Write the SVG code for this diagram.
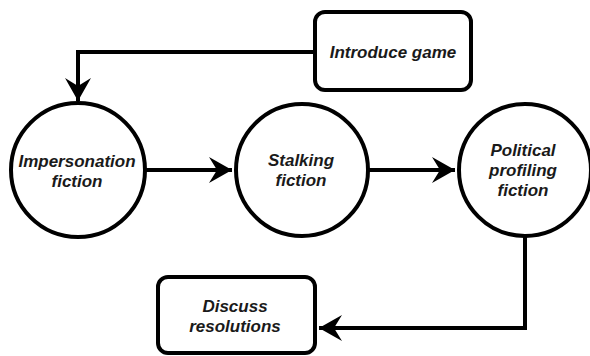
<svg xmlns="http://www.w3.org/2000/svg" width="590" height="356" viewBox="0 0 590 356">
<style>
.shape{fill:#fff;stroke:#000;stroke-width:4}
.edge{fill:none;stroke:#000;stroke-width:4}
text{font-family:"Liberation Sans",Arial,sans-serif;font-size:17px;font-weight:bold;font-style:italic;fill:#1a1a1a;text-anchor:middle}
</style>
<defs>
<marker id="arr" markerUnits="userSpaceOnUse" markerWidth="30" markerHeight="30" viewBox="-24 -15 26 30" refX="0" refY="0" orient="auto">
<path d="M0,0 L-23,-13 L-15,0 L-23,13 Z" fill="#000"/>
</marker>
</defs>
<rect width="590" height="356" fill="#fff"/>
<g id="connectors">
<path class="edge" d="M315,52 H78 V101" marker-end="url(#arr)"/>
<path class="edge" d="M145,170 H232" marker-end="url(#arr)"/>
<path class="edge" d="M368,170 H455" marker-end="url(#arr)"/>
<path class="edge" d="M525,236 V328 H319" marker-end="url(#arr)"/>
</g>
<g id="introduce">
<rect class="shape" x="315" y="12" width="156" height="78" rx="10"/>
<text x="393" y="58">Introduce game</text>
</g>
<g id="impersonation">
<ellipse class="shape" cx="78" cy="170" rx="67" ry="67"/>
<text x="77" y="167">Impersonation</text>
<text x="77" y="187">fiction</text>
</g>
<g id="stalking">
<circle class="shape" cx="302" cy="170" r="66"/>
<text x="301" y="166">Stalking</text>
<text x="301" y="186">fiction</text>
</g>
<g id="political">
<circle class="shape" cx="525" cy="170" r="66"/>
<text x="523" y="156">Political</text>
<text x="523" y="176">profiling</text>
<text x="523" y="196">fiction</text>
</g>
<g id="discuss">
<rect class="shape" x="158" y="277" width="157" height="76" rx="10"/>
<text x="235" y="312">Discuss</text>
<text x="235" y="332">resolutions</text>
</g>
</svg>
